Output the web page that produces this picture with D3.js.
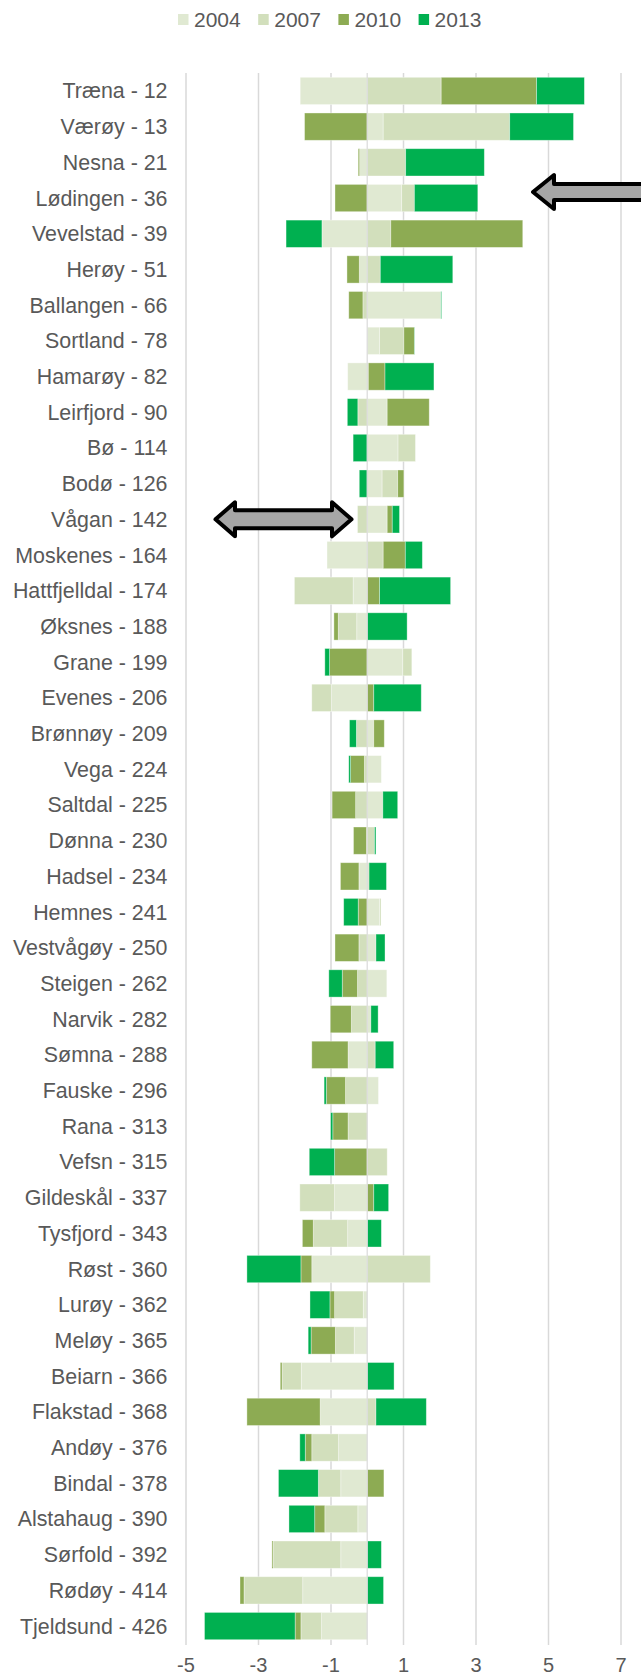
<!DOCTYPE html>
<html>
<head>
<meta charset="utf-8">
<script src="https://cdn.jsdelivr.net/npm/d3@7"></script>
<style>
  body { margin: 0; background: #fff; }
  text { font-family: "Liberation Sans", Arial, sans-serif; fill: #595959; }
</style>
</head>
<body>
<div id="chart"></div>
<script>
// categories (top to bottom) and the four series
const categories = [
  "Træna - 12", "Værøy - 13", "Nesna - 21", "Lødingen - 36", "Vevelstad - 39",
  "Herøy - 51", "Ballangen - 66", "Sortland - 78", "Hamarøy - 82", "Leirfjord - 90",
  "Bø - 114", "Bodø - 126", "Vågan - 142", "Moskenes - 164", "Hattfjelldal - 174",
  "Øksnes - 188", "Grane - 199", "Evenes - 206", "Brønnøy - 209", "Vega - 224",
  "Saltdal - 225", "Dønna - 230", "Hadsel - 234", "Hemnes - 241", "Vestvågøy - 250",
  "Steigen - 262", "Narvik - 282", "Sømna - 288", "Fauske - 296", "Rana - 313",
  "Vefsn - 315", "Gildeskål - 337", "Tysfjord - 343", "Røst - 360", "Lurøy - 362",
  "Meløy - 365", "Beiarn - 366", "Flakstad - 368", "Andøy - 376", "Bindal - 378",
  "Alstahaug - 390", "Sørfold - 392", "Rødøy - 414", "Tjeldsund - 426"
];
const years = ["2004", "2007", "2010", "2013"];

const v2004 = [-1.85, 0.44, -0.21, 0.95, -1.25, -0.22, 2.03, 0.34, -0.54, 0.55,
  0.85, 0.41, 0.55, -1.11, -0.39, -0.29, 0.98, -0.99, 0.18, 0.39,
  0.43, -0.02, -0.23, 0.34, 0.24, 0.54, 0.1, -0.53, 0.31, 0,
  0, -0.9, -0.54, -1.53, -0.11, -0.36, -1.82, -1.3, -0.79, -0.73,
  -0.26, -0.73, -1.78, -1.26];
const v2007 = [2.04, 3.49, 1.06, 0.35, 0.65, 0.36, -0.12, 0.67, 0.03, -0.26,
  0.48, 0.43, -0.27, 0.44, -1.62, -0.51, 0.25, -0.54, -0.3, -0.08,
  -0.32, 0.2, 0.05, 0.04, -0.23, -0.27, -0.44, 0.22, -0.6, -0.53,
  0.55, -0.96, -0.95, 1.74, -0.79, -0.52, -0.53, 0.24, -0.74, -0.62,
  -0.91, -1.87, -1.62, -0.57];
const v2010 = [2.63, -1.73, -0.04, -0.89, 3.64, -0.34, -0.39, 0.29, 0.46, 1.16,
  0, 0.17, 0.14, 0.61, 0.34, -0.12, -1.04, 0.18, 0.29, -0.38,
  -0.65, -0.36, -0.51, -0.25, -0.66, -0.42, -0.58, -1.0, -0.53, -0.42,
  -0.9, 0.18, -0.3, -0.3, -0.13, -0.67, -0.05, -2.02, -0.18, 0.46,
  -0.28, -0.03, -0.11, -0.16];
const v2013 = [1.32, 1.76, 2.17, 1.75, -0.99, 2.0, 0.02, 0.01, 1.35, -0.29,
  -0.39, -0.22, 0.2, 0.47, 1.96, 1.1, -0.13, 1.31, -0.19, -0.05,
  0.41, 0.04, 0.48, -0.4, 0.25, -0.37, 0.2, 0.51, -0.06, -0.06,
  -0.7, 0.41, 0.39, -1.49, -0.55, -0.08, 0.74, 1.39, -0.15, -1.1,
  -0.71, 0.39, 0.45, -2.5];

const xTicks = [-5, -3, -1, 1, 3, 5, 7];
const colors = ["#e0e9d2", "#d2dfbc", "#8dab53", "#00b050"];

const W = 641, H = 1677;
const svg = d3.select("#chart").append("svg")
  .attr("width", W).attr("height", H);

const x = d3.scaleLinear().domain([-5, 7]).range([186, 621]);
const y = d3.scaleBand().domain(categories).range([73, 1644]).paddingInner(0.235).paddingOuter(0.12);

const rows = categories.map((c, i) => ({
  cat: c, "2004": v2004[i], "2007": v2007[i], "2010": v2010[i], "2013": v2013[i]
}));
const series = d3.stack().keys(years).offset(d3.stackOffsetDiverging)(rows);
const color = d3.scaleOrdinal().domain(years).range(colors);

// gridlines
svg.append("g")
  .selectAll("line")
  .data(xTicks)
  .join("line")
  .attr("x1", d => x(d)).attr("x2", d => x(d))
  .attr("y1", 73).attr("y2", 1645)
  .attr("stroke", "#d9d9d9").attr("stroke-width", 1.5);

// bars
svg.append("g")
  .selectAll("g")
  .data(series)
  .join("g")
  .attr("fill", d => color(d.key))
  .selectAll("rect")
  .data(d => d)
  .join("rect")
  .attr("x", d => x(Math.min(d[0], d[1])))
  .attr("width", d => Math.abs(x(d[1]) - x(d[0])))
  .attr("y", d => y(d.data.cat))
  .attr("height", y.bandwidth())
  .attr("stroke", "#ffffff").attr("stroke-opacity", 0.45).attr("stroke-width", 0.8);

// vertical axis line at zero
svg.append("line")
  .attr("x1", x(0)).attr("x2", x(0))
  .attr("y1", 73).attr("y2", 1645)
  .attr("stroke", "#d9d9d9").attr("stroke-width", 1.5).attr("stroke-opacity", 0.8);

// category labels
svg.append("g")
  .selectAll("text")
  .data(categories)
  .join("text")
  .attr("x", 167.5)
  .attr("y", d => y(d) + y.bandwidth() / 2)
  .attr("dy", "0.35em")
  .attr("text-anchor", "end")
  .style("font-size", "21.4px")
  .text(d => d);

// x tick labels
svg.append("g")
  .selectAll("text")
  .data(xTicks)
  .join("text")
  .attr("x", d => x(d))
  .attr("y", 1672)
  .attr("text-anchor", "middle")
  .style("font-size", "20px")
  .text(d => d);

// legend
const legend = svg.append("g").attr("transform", "translate(178,0)");
const li = legend.selectAll("g")
  .data(years)
  .join("g")
  .attr("transform", (d, i) => "translate(" + (i * 80.2) + ",0)");
li.append("rect")
  .attr("y", 14).attr("width", 10.5).attr("height", 11)
  .attr("fill", d => color(d));
li.append("text")
  .attr("x", 16).attr("y", 27.3)
  .style("font-size", "21px")
  .text(d => d);

// arrows
const cyL = y("Lødingen - 36") + y.bandwidth() / 2 - 6;
svg.append("path")
  .attr("d", `M533,${cyL} L554,${cyL - 17} L554,${cyL - 8} L660,${cyL - 8} L660,${cyL + 8} L554,${cyL + 8} L554,${cyL + 17} Z`)
  .attr("fill", "#a6a6a6").attr("stroke", "#000").attr("stroke-width", 4)
  .attr("stroke-linejoin", "round");

const cyV = y("Vågan - 142") + y.bandwidth() / 2;
svg.append("path")
  .attr("d", `M215.5,${cyV} L235,${cyV - 17} L235,${cyV - 9} L332,${cyV - 9} L332,${cyV - 17} L351.5,${cyV} L332,${cyV + 17} L332,${cyV + 9} L235,${cyV + 9} L235,${cyV + 17} Z`)
  .attr("fill", "#a6a6a6").attr("stroke", "#000").attr("stroke-width", 4)
  .attr("stroke-linejoin", "round");
</script>
</body>
</html>
